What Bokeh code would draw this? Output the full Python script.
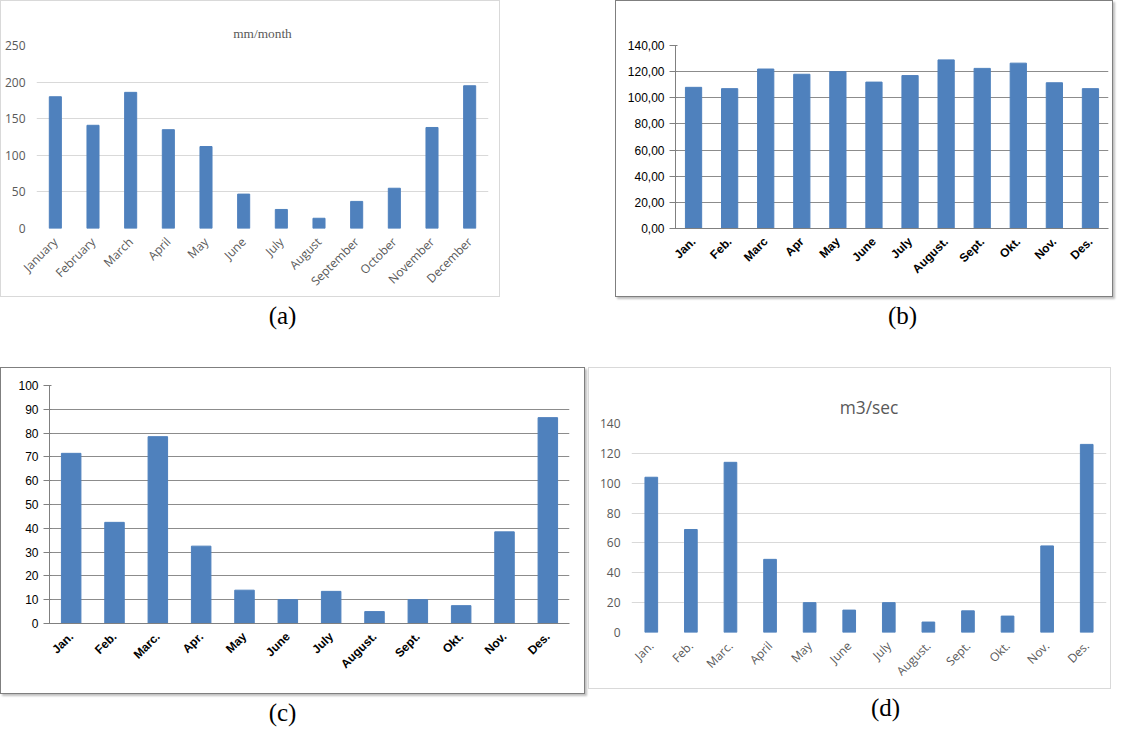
from bokeh.plotting import figure
from bokeh.layouts import column, row
from bokeh.models import Div, Spacer, CustomJSTickFormatter, FixedTicker
from bokeh.embed import file_html
from bokeh.resources import INLINE

months_a = ["January", "February", "March", "April", "May", "June", "July",
            "August", "September", "October", "November", "December"]
rain_a = [180, 141, 186, 135, 112, 47, 26, 14, 37, 55, 138, 195]

months_b = ["Jan.", "Feb.", "Marc", "Apr", "May", "June", "July",
            "August.", "Sept.", "Okt.", "Nov.", "Des."]
vals_b = [108, 107, 122, 118, 120, 112, 117, 129, 122.5, 126.5, 111.5, 107]

months_c = ["Jan.", "Feb.", "Marc.", "Apr.", "May", "June", "July",
            "August.", "Sept.", "Okt.", "Nov.", "Des."]
vals_c = [71.5, 42.5, 78.5, 32.5, 14, 10, 13.5, 5, 10, 7.5, 38.5, 86.5]

months_d = ["Jan.", "Feb.", "Marc.", "April", "May", "June", "July",
            "August.", "Sept.", "Okt.", "Nov.", "Des."]
flow_d = [104, 69, 114, 49, 20, 15, 20, 7, 14.5, 11, 58, 126]

BLUE = "#4f81bd"


def excel_plot(cats, vals, title, ymax, step, w, h, borders, tfont, tsize):
    left, right, top, bottom = borders
    p = figure(x_range=cats, y_range=(0, ymax), width=w, height=h,
               output_backend="svg", toolbar_location=None,
               title=title, min_border_left=left, min_border_right=right,
               min_border_top=top, min_border_bottom=bottom)
    p.title.align = "center"
    p.title.text_font = tfont
    p.title.text_font_size = tsize
    p.title.text_font_style = "normal"
    p.title.text_color = "#595959"
    p.title.offset = 0
    p.vbar(x=cats, top=vals, width=0.32, color=BLUE)
    p.yaxis.ticker = FixedTicker(ticks=list(range(0, ymax + 1, step)))
    for ax in (p.xaxis, p.yaxis):
        ax.axis_line_color = None
        ax.major_tick_line_color = None
        ax.minor_tick_line_color = None
        ax.major_label_text_color = "#595959"
        ax.major_label_text_font = "Open Sans"
        ax.major_label_text_font_size = "9pt"
    p.xaxis.major_label_orientation = 0.785
    p.xgrid.grid_line_color = None
    p.ygrid.grid_line_color = "#d9d9d9"
    p.outline_line_color = None
    p.styles = {"border": "1px solid #d9d9d9", "box-sizing": "border-box"}
    return p


def boxed_plot(cats, vals, ymax, step, w, h, borders, fmt):
    left, right, top, bottom = borders
    p = figure(x_range=cats, y_range=(0, ymax), width=w, height=h,
               output_backend="svg", toolbar_location=None,
               min_border_left=left, min_border_right=right,
               min_border_top=top, min_border_bottom=bottom)
    p.vbar(x=cats, top=vals, width=0.45, color=BLUE)
    p.yaxis.ticker = FixedTicker(ticks=list(range(0, ymax + 1, step)))
    if fmt:
        p.yaxis.formatter = CustomJSTickFormatter(
            code="return tick.toFixed(2).replace('.', ',');")
    p.xaxis.major_label_orientation = 0.785
    p.xaxis.major_label_text_font_style = "bold"
    for ax in (p.xaxis, p.yaxis):
        ax.major_label_text_color = "black"
        ax.major_label_text_font = "Liberation Sans"
        ax.major_label_text_font_size = "9pt"
        ax.minor_tick_line_color = None
        ax.axis_line_color = "#808080"
        ax.major_tick_line_color = "#808080"
    p.xaxis.major_tick_line_color = None
    p.xgrid.grid_line_color = None
    p.ygrid.grid_line_color = "#8c8c8c"
    p.outline_line_color = None
    p.styles = {"border": "1px solid #7f7f7f", "box-sizing": "border-box",
                "box-shadow": "2px 2px 2px #bfbfbf"}
    return p


def caption(text, w, h):
    return Div(text=text, width=w, height=h,
               styles={"font-family": "Liberation Serif", "font-size": "25px",
                       "text-align": "center", "width": f"{w}px",
                       "line-height": "28px"})


pa = excel_plot(months_a, rain_a, "mm/month", 250, 50, 500, 297,
                (32, 13, 44, 67), "Liberation Serif", "10pt")
pb = boxed_plot(months_b, vals_b, 140, 20, 498, 297, (59, 6, 20, 60), True)
pc = boxed_plot(months_c, vals_c, 100, 10, 585, 327, (48, 17, 17, 72), False)
pd = excel_plot(months_d, flow_d, "m3/sec", 140, 20, 523, 322,
                (42, 6, 55, 58), "Open Sans", "13pt")

layout = column(
    row(pa, Spacer(width=115), pb),
    row(caption("(a)", 555, 60), Spacer(width=60), caption("(b)", 545, 60)),
    row(column(pc, caption("(c)", 555, 30)), Spacer(width=3),
        column(pd, caption("(d)", 585, 30))),
)

open("out.html", "w").write(file_html(layout, INLINE))
